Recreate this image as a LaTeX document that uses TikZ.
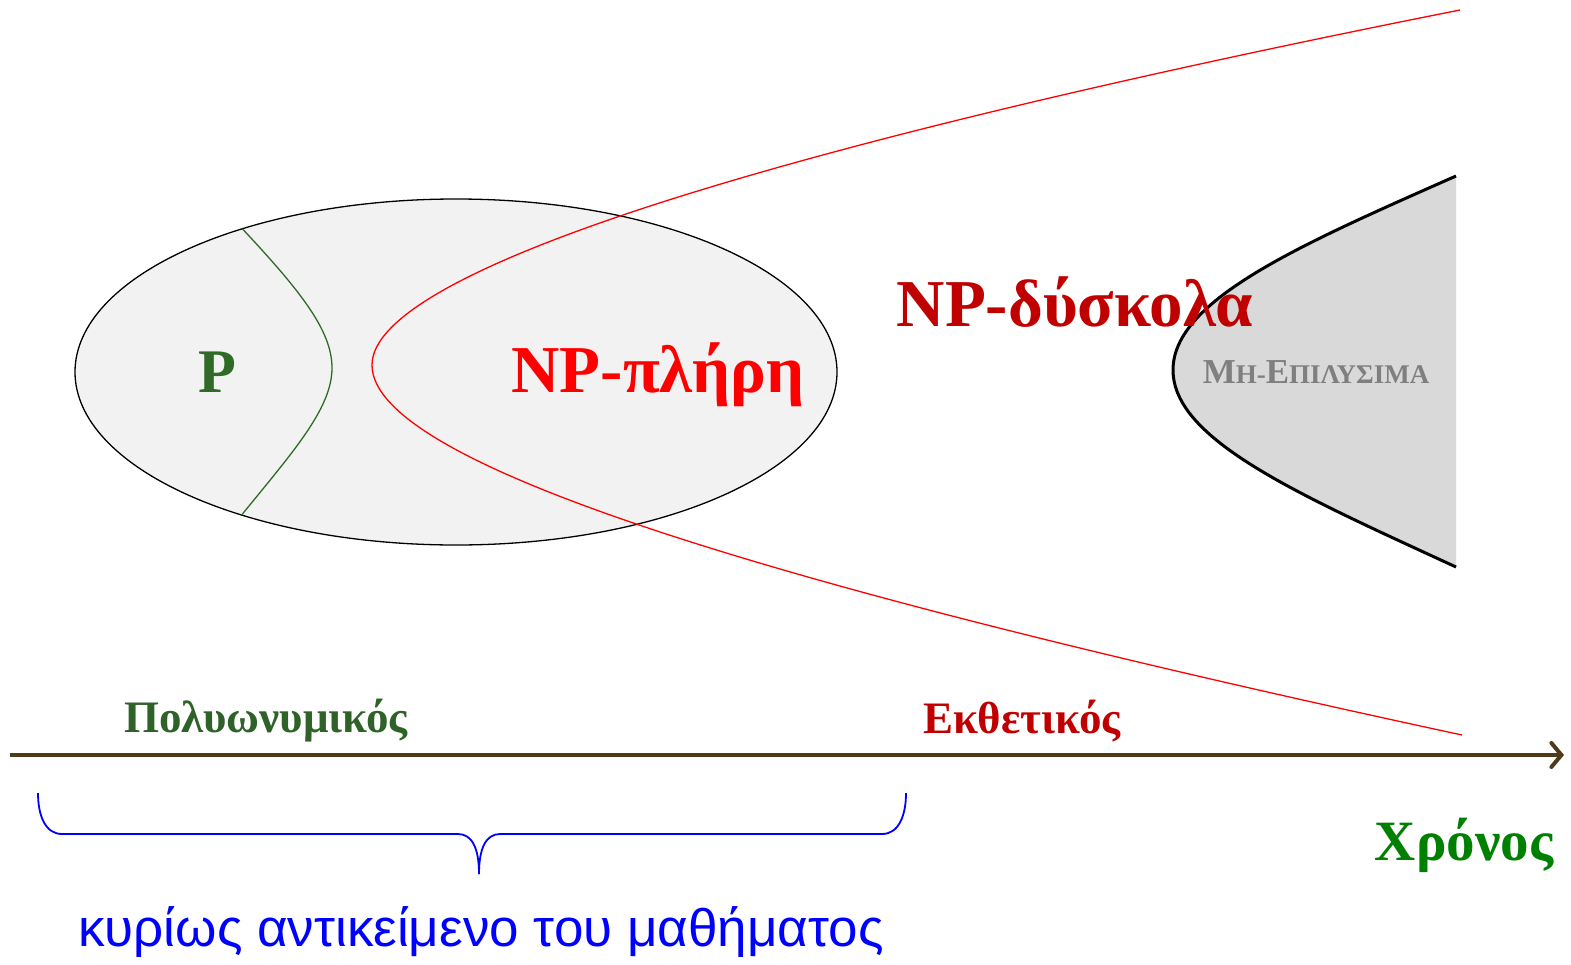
\documentclass[tikz,border=0pt]{standalone}
\usepackage{fontspec}
\setmainfont{Liberation Serif}
\setsansfont{Liberation Sans}
\usetikzlibrary{arrows.meta}

\definecolor{ellfill}{HTML}{F2F2F2}
\definecolor{undfill}{HTML}{D9D9D9}
\definecolor{undtext}{HTML}{7F7F7F}
\definecolor{pgreen}{HTML}{2F6B27}
\definecolor{polygreen}{HTML}{2F6228}
\definecolor{timegreen}{HTML}{008000}
\definecolor{darkred}{HTML}{C00000}
\definecolor{axisbrown}{HTML}{4F3A1C}
\definecolor{bracketblue}{HTML}{0000FF}

\newcommand{\fsz}[1]{\fontsize{#1}{#1}\selectfont}

\begin{document}
\begin{tikzpicture}[x=1pt,y=-1pt,
  lbl/.style={inner sep=0pt, font=\bfseries},
  classline/.style={line width=1.3pt}]
\useasboundingbox (0,0) rectangle (1571,964);

% NP set (ellipse)
\draw[fill=ellfill, draw=black, classline] (456,372) ellipse [x radius=381, y radius=173];

% boundary of P
\begin{scope}
  \clip (456,372) ellipse [x radius=381, y radius=173];
  \draw[classline, pgreen] (236,222) .. controls (300,290) and (332,330) .. (332,368)
        .. controls (332,410) and (290,455) .. (236,522);
\end{scope}

% boundary of NP-complete / NP-hard
\coordinate (rtop) at (1460,10);
\coordinate (rvert) at (372,365);
\coordinate (rbot) at (1462,735);
\draw[classline, red] (rtop) .. controls (780,145) and (372,270) .. (rvert)
      .. controls (372,465) and (780,588) .. (rbot);

% undecidable region
\coordinate (utop) at (1456,176);
\coordinate (uvert) at (1173,370);
\coordinate (ubot) at (1456,567);
\fill[undfill] (utop) .. controls (1300,245) and (1173,300) .. (uvert)
      .. controls (1173,440) and (1300,495) .. (ubot) -- cycle;
\draw[line width=3pt, black] (utop) .. controls (1300,245) and (1173,300) .. (uvert)
      .. controls (1173,440) and (1300,495) .. (ubot);

% labels of the classes
\node[lbl, text=pgreen, font=\bfseries\fsz{62}] (p) at (217,372) {P};
\node[lbl, text=red, font=\bfseries\fsz{67}] (npc) at (658,375) {NP-πλήρη};
\node[lbl, text=darkred, font=\bfseries\fsz{67}] (nph) at (1075,302) {NP-δύσκολα};
\node[lbl, text=undtext] (und) at (1316,372)
  {\fsz{35}Μ\fsz{27}Η-\fsz{35}Ε\fsz{27}ΠΙΛΥΣΙΜΑ};

% time axis
\coordinate (axl) at (10,755);
\coordinate (axr) at (1564,755);
\draw[axisbrown, line width=4pt, -{Straight Barb[length=10pt,width=24pt,line cap=round]}] (axl) -- (axr);
\node[lbl, text=polygreen, font=\bfseries\fsz{45}] (poly) at (266,721) {Πολυωνυμικός};
\node[lbl, text=darkred, font=\bfseries\fsz{45}] (expo) at (1022,721) {Εκθετικός};
\node[lbl, text=timegreen, font=\bfseries\fsz{57}] (time) at (1464,845) {Χρόνος};

% brace under the polynomial part
\coordinate (bl) at (38,793);
\coordinate (br) at (906,793);
\coordinate (btip) at (479,874);
\draw[bracketblue, line width=1.8pt] (bl) .. controls (38,815) and (45,834) .. (62,834)
      -- (458,834) .. controls (472,834) and (479,848) .. (btip);
\draw[bracketblue, line width=1.8pt] (br) .. controls (906,815) and (899,834) .. (882,834)
      -- (500,834) .. controls (486,834) and (479,848) .. (btip);
\node[inner sep=0pt, text=bracketblue, font=\sffamily\fsz{53}] (course) at (481,932)
  {κυρίως αντικείμενο του μαθήματος};
\end{tikzpicture}
\end{document}
